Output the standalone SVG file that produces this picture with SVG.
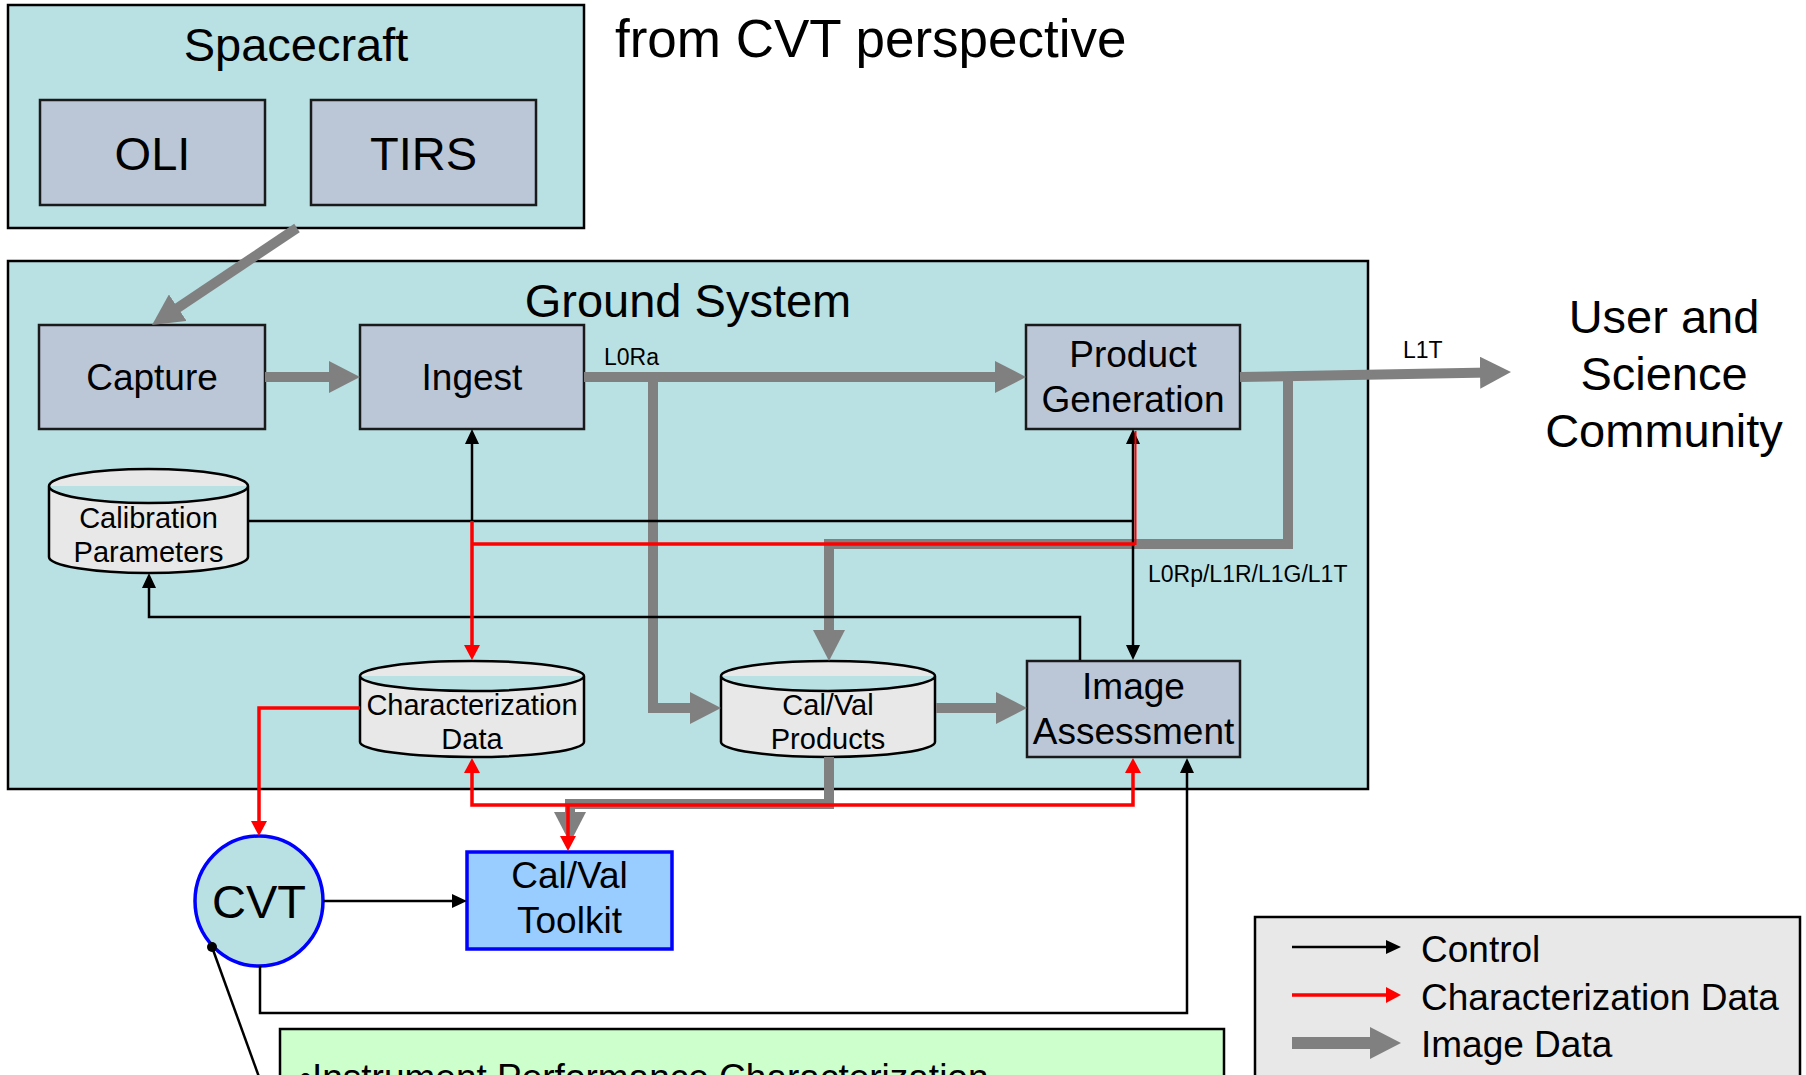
<svg xmlns="http://www.w3.org/2000/svg" width="1806" height="1075" viewBox="0 0 1806 1075">
<defs>
<style>
text{font-family:"Liberation Sans",Arial,sans-serif;fill:#000}
.t47{font-size:47px;text-anchor:middle}
.t37{font-size:37px;text-anchor:middle}
.t29{font-size:29px;text-anchor:middle}
.lbl{font-size:23px}
.area{fill:#b9e0e3;stroke:#000;stroke-width:2.5}
.box{fill:#bbc7d7;stroke:#1a1a1a;stroke-width:2.5}
.cyl{fill:#e8e8e8;stroke:#000;stroke-width:2.5}
.gray{fill:none;stroke:#808080;stroke-width:10;stroke-linejoin:miter}
.blk{fill:none;stroke:#000;stroke-width:2.5}
.red{fill:none;stroke:#ff0000;stroke-width:3.5}
</style>
<marker id="ag" markerUnits="userSpaceOnUse" markerWidth="32" markerHeight="32" refX="10" refY="16" orient="auto"><path d="M0,0 L31,16 L0,32 z" fill="#808080"/></marker>
<marker id="ab" markerUnits="userSpaceOnUse" markerWidth="16" markerHeight="14" refX="5" refY="7" orient="auto-start-reverse"><path d="M0,0 L15,7 L0,14 z" fill="#000"/></marker>
<marker id="ar" markerUnits="userSpaceOnUse" markerWidth="16" markerHeight="16" refX="5" refY="8" orient="auto-start-reverse"><path d="M0,0 L15,8 L0,16 z" fill="#ff0000"/></marker>
</defs>
<rect width="1806" height="1075" fill="#fff"/>

<text x="615" y="57" style="font-size:53px">from CVT perspective</text>

<g id="spacecraft">
<rect class="area" x="8" y="5" width="576" height="223"/>
<text class="t47" x="296" y="61">Spacecraft</text>
</g>
<g id="oli"><rect class="box" x="40" y="100" width="225" height="105"/><text class="t47" x="152.5" y="170">OLI</text></g>
<g id="tirs"><rect class="box" x="311" y="100" width="225" height="105"/><text class="t47" x="423.5" y="170">TIRS</text></g>

<g id="ground-system">
<rect class="area" x="8" y="261" width="1360" height="528"/>
<text class="t47" x="688" y="317">Ground System</text>
</g>
<g id="capture"><rect class="box" x="39" y="325" width="226" height="104"/><text class="t37" x="152" y="390">Capture</text></g>
<g id="ingest"><rect class="box" x="360" y="325" width="224" height="104"/><text class="t37" x="472" y="390">Ingest</text></g>
<g id="product-generation"><rect class="box" x="1026" y="325" width="214" height="104"/><text class="t37" x="1133" y="367">Product</text><text class="t37" x="1133" y="412">Generation</text></g>
<g id="calibration-parameters">
<path class="cyl" d="M49,486 A99.5,17 0 0 1 248,486 V557 A99.5,16 0 0 1 49,557 Z M49,486 A99.5,17 0 0 0 248,486"/>
<text class="t29" x="148.5" y="528">Calibration</text><text class="t29" x="148.5" y="562">Parameters</text>
</g>
<g id="characterization-data">
<path class="cyl" d="M360,676 A112,15 0 0 1 584,676 V742 A112,15 0 0 1 360,742 Z M360,676 A112,15 0 0 0 584,676"/>
<text class="t29" x="472" y="715">Characterization</text><text class="t29" x="472" y="749">Data</text>
</g>
<g id="calval-products">
<path class="cyl" d="M721,676 A107,15 0 0 1 935,676 V742 A107,15 0 0 1 721,742 Z M721,676 A107,15 0 0 0 935,676"/>
<text class="t29" x="828" y="715">Cal/Val</text><text class="t29" x="828" y="749">Products</text>
</g>
<g id="image-assessment"><rect class="box" x="1027" y="661" width="213" height="96"/><text class="t37" x="1133.5" y="699">Image</text><text class="t37" x="1133.5" y="744">Assessment</text></g>

<g id="user-community">
<text class="t47" x="1664" y="333">User and</text><text class="t47" x="1664" y="390">Science</text><text class="t47" x="1664" y="447">Community</text>
</g>

<g id="cvt"><ellipse cx="259" cy="901" rx="64" ry="65" fill="#b9e0e3" stroke="#0000ff" stroke-width="3.5"/><text class="t47" x="259" y="918">CVT</text></g>
<g id="calval-toolkit"><rect x="467" y="852" width="205" height="97" fill="#99ccff" stroke="#0000ff" stroke-width="3.5"/><text class="t37" x="569.5" y="888">Cal/Val</text><text class="t37" x="569.5" y="933">Toolkit</text></g>

<g id="notes"><rect x="280" y="1029" width="944" height="100" fill="#ccffcc" stroke="#000" stroke-width="2.5"/><text x="299" y="1090" style="font-size:37px">•Instrument Performance Characterization</text></g>

<g id="connectors">
<path class="gray" d="M297,228 L169.5,313.3" marker-end="url(#ag)"/>
<path class="gray" d="M265,377 H339" marker-end="url(#ag)"/>
<path class="gray" d="M584,377 H1005" marker-end="url(#ag)"/>
<path class="gray" d="M653,377 V708 H700" marker-end="url(#ag)"/>
<path class="gray" d="M936,708 H1006" marker-end="url(#ag)"/>
<path class="gray" d="M1240,377 L1490,372.5" marker-end="url(#ag)"/>
<path class="gray" d="M1288,377 V544 H829 V640" marker-end="url(#ag)"/>
<path class="gray" d="M829,757 V804 H570 V822" marker-end="url(#ag)"/>

<path class="blk" d="M248,521 H1133"/>
<path class="blk" d="M1133,439 V650" marker-start="url(#ab)" marker-end="url(#ab)"/>
<path class="blk" d="M1080,660 V617 H149 V583" marker-end="url(#ab)"/>
<path class="blk" d="M472,521 V439" marker-end="url(#ab)"/>
<path class="blk" d="M323,901 H457" marker-end="url(#ab)"/>
<path class="blk" d="M260,966 V1013 H1187 V768" marker-end="url(#ab)"/>
<path class="blk" d="M212,947 L263,1088"/>
<circle cx="212" cy="947" r="5" fill="#000"/>

<path class="red" d="M472,521 V650" marker-end="url(#ar)"/>
<path class="red" d="M472,544 H1135"/>
<path d="M1135.5,545 V431" fill="none" stroke="#ff0000" stroke-width="2"/>
<path class="red" d="M360,708 H259 V826" marker-end="url(#ar)"/>
<path class="red" d="M472,768 V805 H1133 V768" marker-start="url(#ar)" marker-end="url(#ar)"/>
<path class="red" d="M568,805 V841" marker-end="url(#ar)"/>

<text class="lbl" x="604" y="365">L0Ra</text>
<text class="lbl" x="1403" y="358">L1T</text>
<text class="lbl" x="1148" y="582">L0Rp/L1R/L1G/L1T</text>
</g>

<g id="legend">
<rect x="1255" y="917" width="545" height="200" fill="#e8e8e8" stroke="#000" stroke-width="2.5"/>
<path class="blk" d="M1292,947 H1391" marker-end="url(#ab)"/>
<path class="red" d="M1292,995 H1391" marker-end="url(#ar)"/>
<path class="gray" d="M1292,1043 H1380" style="stroke-width:12" marker-end="url(#ag)"/>
<text x="1421" y="962" style="font-size:37px">Control</text>
<text x="1421" y="1010" style="font-size:37px">Characterization Data</text>
<text x="1421" y="1057" style="font-size:37px">Image Data</text>
</g>
</svg>
